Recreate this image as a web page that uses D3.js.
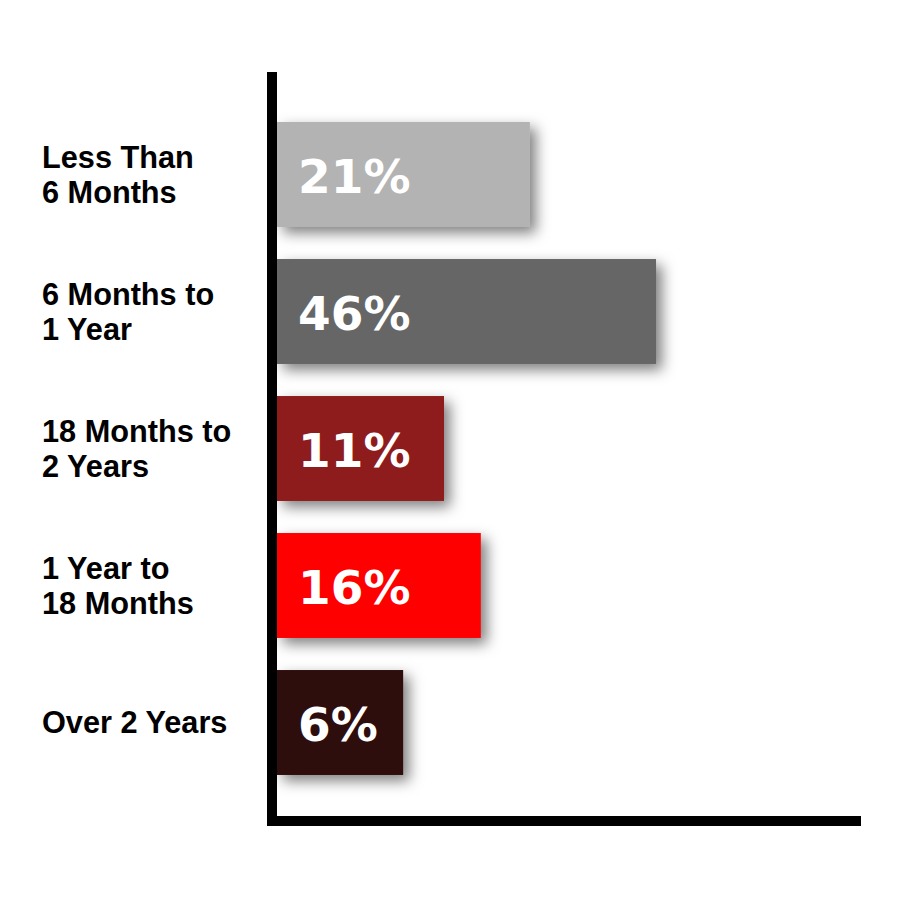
<!DOCTYPE html>
<html>
<head>
<meta charset="utf-8">
<script src="https://cdn.jsdelivr.net/npm/d3@7"></script>
<style>
  body { margin: 0; background: #fff; }
  svg { display: block; }
</style>
</head>
<body>
<svg id="chart"></svg>
<script>
// categories, top to bottom
const categories = [
  ["Less Than", "6 Months"],
  ["6 Months to", "1 Year"],
  ["18 Months to", "2 Years"],
  ["1 Year to", "18 Months"],
  ["Over 2 Years"]
];
// printed labels
const valueLabels = ["21%", "46%", "11%", "16%", "6%"];
// bar lengths as drawn, in % of axis length
const barLengths = [43.3, 64.9, 28.6, 34.9, 21.6];
const barColors = ["#b3b3b3", "#666666", "#8e1c1c", "#ff0000", "#2e0d0b"];

const W = 901, H = 901;
const svg = d3.select("#chart").attr("width", W).attr("height", H);

// drop shadow for bars
const defs = svg.append("defs");
defs.append("filter")
  .attr("id", "shadow")
  .attr("x", "-20%").attr("y", "-40%")
  .attr("width", "160%").attr("height", "200%")
  .append("feDropShadow")
  .attr("dx", 6).attr("dy", 6)
  .attr("stdDeviation", 7)
  .attr("flood-color", "#000")
  .attr("flood-opacity", 0.5);

const x = d3.scaleLinear().domain([0, 100]).range([277, 861]);
const y = d3.scaleBand()
  .domain(d3.range(categories.length))
  .range([106, 791])
  .paddingInner(0.234)
  .paddingOuter(0.117);

// bars
svg.append("g").selectAll("rect")
  .data(barLengths)
  .join("rect")
  .attr("x", x(0))
  .attr("y", (d, i) => y(i))
  .attr("width", d => x(d) - x(0))
  .attr("height", y.bandwidth())
  .attr("fill", (d, i) => barColors[i])
  .attr("filter", "url(#shadow)");

// value labels in bars
svg.append("g").selectAll("text")
  .data(valueLabels)
  .join("text")
  .attr("x", x(0) + 21)
  .attr("y", (d, i) => y(i) + y.bandwidth() / 2 + 18)
  .attr("fill", "#fff")
  .style("font-family", "'DejaVu Sans', sans-serif")
  .style("font-weight", "bold")
  .style("font-size", "47px")
  .text(d => d);

// category labels
const lineH = 35;
const catG = svg.append("g").selectAll("text")
  .data(categories)
  .join("text")
  .attr("x", 42)
  .attr("y", (d, i) => y(i) + y.bandwidth() / 2 + 10.5 - (d.length - 1) * lineH / 2)
  .attr("fill", "#000")
  .style("font-family", "Arial, 'Liberation Sans', sans-serif")
  .style("font-weight", "bold")
  .style("font-size", "30.7px");

catG.selectAll("tspan")
  .data(d => d)
  .join("tspan")
  .attr("x", 42)
  .attr("dy", (d, i) => i === 0 ? 0 : lineH)
  .text(d => d);

// axis lines
svg.append("line")
  .attr("x1", 272).attr("x2", 272)
  .attr("y1", 72).attr("y2", 826)
  .attr("stroke", "#000").attr("stroke-width", 10);

svg.append("line")
  .attr("x1", 267).attr("x2", 861)
  .attr("y1", 821).attr("y2", 821)
  .attr("stroke", "#000").attr("stroke-width", 10);
</script>
</body>
</html>
